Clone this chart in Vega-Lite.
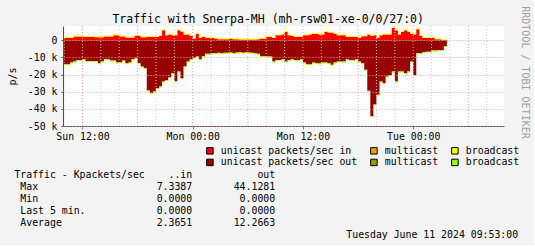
{
  "$schema": "https://vega.github.io/schema/vega-lite/v6.json",
  "background": "#F3F3F3",
  "padding": {"left": 7, "top": 5, "right": 5, "bottom": 5},
  "bounds": "flush",
  "spacing": 49,
  "config": {
    "font": "DejaVu Sans Mono",
    "view": {"stroke": null}
  },
  "datasets": {
    "grid": [
      {"g":"2024-06-09T10:00","m":0},{"g":"2024-06-09T12:00","m":1},{"g":"2024-06-09T14:00","m":0},{"g":"2024-06-09T16:00","m":0},
      {"g":"2024-06-09T18:00","m":1},{"g":"2024-06-09T20:00","m":0},{"g":"2024-06-09T22:00","m":0},{"g":"2024-06-10T00:00","m":1},
      {"g":"2024-06-10T02:00","m":0},{"g":"2024-06-10T04:00","m":0},{"g":"2024-06-10T06:00","m":1},{"g":"2024-06-10T08:00","m":0},
      {"g":"2024-06-10T10:00","m":0},{"g":"2024-06-10T12:00","m":1},{"g":"2024-06-10T14:00","m":0},{"g":"2024-06-10T16:00","m":0},
      {"g":"2024-06-10T18:00","m":1},{"g":"2024-06-10T20:00","m":0},{"g":"2024-06-10T22:00","m":0},{"g":"2024-06-11T00:00","m":1},
      {"g":"2024-06-11T02:00","m":0},{"g":"2024-06-11T04:00","m":0},{"g":"2024-06-11T06:00","m":1},{"g":"2024-06-11T08:00","m":0}
    ],
    "traffic": [
      {"t":"2024-06-09T10:00","ui":1350,"bi":550,"uo":-13850,"bo":-550},
      {"t":"2024-06-09T10:20","ui":1350,"bi":550,"uo":-13850,"bo":-550},
      {"t":"2024-06-09T10:40","ui":1350,"bi":550,"uo":-13050,"bo":-550},
      {"t":"2024-06-09T11:00","ui":2150,"bi":550,"uo":-12450,"bo":-550},
      {"t":"2024-06-09T11:20","ui":2150,"bi":550,"uo":-11450,"bo":-550},
      {"t":"2024-06-09T11:40","ui":2150,"bi":550,"uo":-11450,"bo":-550},
      {"t":"2024-06-09T12:00","ui":1950,"bi":550,"uo":-11050,"bo":-550},
      {"t":"2024-06-09T12:20","ui":1950,"bi":550,"uo":-12050,"bo":-550},
      {"t":"2024-06-09T12:40","ui":1950,"bi":550,"uo":-12050,"bo":-550},
      {"t":"2024-06-09T13:00","ui":1950,"bi":550,"uo":-12050,"bo":-550},
      {"t":"2024-06-09T13:20","ui":1750,"bi":550,"uo":-12050,"bo":-550},
      {"t":"2024-06-09T13:40","ui":1750,"bi":550,"uo":-13450,"bo":-550},
      {"t":"2024-06-09T14:00","ui":1750,"bi":550,"uo":-12450,"bo":-550},
      {"t":"2024-06-09T14:20","ui":2150,"bi":550,"uo":-11050,"bo":-550},
      {"t":"2024-06-09T14:40","ui":2150,"bi":550,"uo":-11050,"bo":-550},
      {"t":"2024-06-09T15:00","ui":2150,"bi":550,"uo":-11850,"bo":-550},
      {"t":"2024-06-09T15:20","ui":2950,"bi":550,"uo":-11850,"bo":-550},
      {"t":"2024-06-09T15:40","ui":2950,"bi":550,"uo":-13050,"bo":-550},
      {"t":"2024-06-09T16:00","ui":2150,"bi":550,"uo":-12650,"bo":-550},
      {"t":"2024-06-09T16:20","ui":2150,"bi":550,"uo":-11850,"bo":-550},
      {"t":"2024-06-09T16:40","ui":1550,"bi":550,"uo":-13450,"bo":-550},
      {"t":"2024-06-09T17:00","ui":1550,"bi":550,"uo":-13050,"bo":-550},
      {"t":"2024-06-09T17:20","ui":1550,"bi":550,"uo":-11050,"bo":-550},
      {"t":"2024-06-09T17:40","ui":2550,"bi":550,"uo":-10450,"bo":-550},
      {"t":"2024-06-09T18:00","ui":2550,"bi":550,"uo":-13450,"bo":-550},
      {"t":"2024-06-09T18:20","ui":1750,"bi":550,"uo":-15350,"bo":-550},
      {"t":"2024-06-09T18:40","ui":1750,"bi":550,"uo":-16350,"bo":-550},
      {"t":"2024-06-09T19:00","ui":1950,"bi":550,"uo":-29350,"bo":-550},
      {"t":"2024-06-09T19:20","ui":1950,"bi":550,"uo":-30850,"bo":-550},
      {"t":"2024-06-09T19:40","ui":1950,"bi":550,"uo":-29950,"bo":-550},
      {"t":"2024-06-09T20:00","ui":1950,"bi":550,"uo":-27950,"bo":-550},
      {"t":"2024-06-09T20:20","ui":2550,"bi":550,"uo":-26950,"bo":-550},
      {"t":"2024-06-09T20:40","ui":5850,"bi":550,"uo":-24050,"bo":-550},
      {"t":"2024-06-09T21:00","ui":2950,"bi":550,"uo":-23150,"bo":-550},
      {"t":"2024-06-09T21:20","ui":3350,"bi":550,"uo":-21550,"bo":-550},
      {"t":"2024-06-09T21:40","ui":2950,"bi":550,"uo":-19250,"bo":-550},
      {"t":"2024-06-09T22:00","ui":2950,"bi":550,"uo":-23950,"bo":-550},
      {"t":"2024-06-09T22:20","ui":5850,"bi":550,"uo":-18250,"bo":-550},
      {"t":"2024-06-09T22:40","ui":5050,"bi":550,"uo":-22150,"bo":-550},
      {"t":"2024-06-09T23:00","ui":3350,"bi":550,"uo":-15350,"bo":-550},
      {"t":"2024-06-09T23:20","ui":3350,"bi":550,"uo":-12450,"bo":-550},
      {"t":"2024-06-09T23:40","ui":2550,"bi":550,"uo":-11050,"bo":-550},
      {"t":"2024-06-10T00:00","ui":950,"bi":550,"uo":-10250,"bo":-550},
      {"t":"2024-06-10T00:20","ui":3850,"bi":550,"uo":-9550,"bo":-550},
      {"t":"2024-06-10T00:40","ui":1350,"bi":550,"uo":-11050,"bo":-550},
      {"t":"2024-06-10T01:00","ui":1950,"bi":550,"uo":-9150,"bo":-550},
      {"t":"2024-06-10T01:20","ui":1350,"bi":550,"uo":-7950,"bo":-550},
      {"t":"2024-06-10T01:40","ui":1350,"bi":550,"uo":-7950,"bo":-550},
      {"t":"2024-06-10T02:00","ui":1350,"bi":550,"uo":-7550,"bo":-550},
      {"t":"2024-06-10T02:20","ui":950,"bi":550,"uo":-7450,"bo":-550},
      {"t":"2024-06-10T02:40","ui":550,"bi":550,"uo":-7250,"bo":-550},
      {"t":"2024-06-10T03:00","ui":550,"bi":550,"uo":-7650,"bo":-550},
      {"t":"2024-06-10T03:20","ui":550,"bi":550,"uo":-7350,"bo":-550},
      {"t":"2024-06-10T03:40","ui":550,"bi":550,"uo":-7250,"bo":-550},
      {"t":"2024-06-10T04:00","ui":950,"bi":550,"uo":-7150,"bo":-550},
      {"t":"2024-06-10T04:20","ui":550,"bi":550,"uo":-7450,"bo":-550},
      {"t":"2024-06-10T04:40","ui":550,"bi":550,"uo":-7150,"bo":-550},
      {"t":"2024-06-10T05:00","ui":450,"bi":550,"uo":-7050,"bo":-550},
      {"t":"2024-06-10T05:20","ui":450,"bi":550,"uo":-7250,"bo":-550},
      {"t":"2024-06-10T05:40","ui":450,"bi":550,"uo":-6950,"bo":-550},
      {"t":"2024-06-10T06:00","ui":450,"bi":550,"uo":-7150,"bo":-550},
      {"t":"2024-06-10T06:20","ui":450,"bi":550,"uo":-7350,"bo":-550},
      {"t":"2024-06-10T06:40","ui":450,"bi":550,"uo":-7650,"bo":-550},
      {"t":"2024-06-10T07:00","ui":550,"bi":550,"uo":-7950,"bo":-550},
      {"t":"2024-06-10T07:20","ui":950,"bi":550,"uo":-9150,"bo":-550},
      {"t":"2024-06-10T07:40","ui":950,"bi":550,"uo":-9150,"bo":-550},
      {"t":"2024-06-10T08:00","ui":1950,"bi":550,"uo":-9550,"bo":-550},
      {"t":"2024-06-10T08:20","ui":1950,"bi":550,"uo":-9550,"bo":-550},
      {"t":"2024-06-10T08:40","ui":1350,"bi":550,"uo":-12450,"bo":-550},
      {"t":"2024-06-10T09:00","ui":2950,"bi":550,"uo":-11450,"bo":-550},
      {"t":"2024-06-10T09:20","ui":2950,"bi":550,"uo":-11450,"bo":-550},
      {"t":"2024-06-10T09:40","ui":3350,"bi":550,"uo":-11050,"bo":-550},
      {"t":"2024-06-10T10:00","ui":4850,"bi":550,"uo":-12450,"bo":-550},
      {"t":"2024-06-10T10:20","ui":2950,"bi":550,"uo":-11450,"bo":-550},
      {"t":"2024-06-10T10:40","ui":2550,"bi":550,"uo":-11050,"bo":-550},
      {"t":"2024-06-10T11:00","ui":1950,"bi":550,"uo":-11450,"bo":-550},
      {"t":"2024-06-10T11:20","ui":1950,"bi":550,"uo":-11450,"bo":-550},
      {"t":"2024-06-10T11:40","ui":1950,"bi":550,"uo":-11050,"bo":-550},
      {"t":"2024-06-10T12:00","ui":2950,"bi":550,"uo":-13050,"bo":-550},
      {"t":"2024-06-10T12:20","ui":2950,"bi":550,"uo":-13850,"bo":-550},
      {"t":"2024-06-10T12:40","ui":3350,"bi":550,"uo":-13850,"bo":-550},
      {"t":"2024-06-10T13:00","ui":3850,"bi":550,"uo":-13050,"bo":-550},
      {"t":"2024-06-10T13:20","ui":3850,"bi":550,"uo":-13450,"bo":-550},
      {"t":"2024-06-10T13:40","ui":3350,"bi":550,"uo":-13450,"bo":-550},
      {"t":"2024-06-10T14:00","ui":3350,"bi":550,"uo":-13050,"bo":-550},
      {"t":"2024-06-10T14:20","ui":4850,"bi":550,"uo":-13050,"bo":-550},
      {"t":"2024-06-10T14:40","ui":4450,"bi":550,"uo":-13450,"bo":-550},
      {"t":"2024-06-10T15:00","ui":4450,"bi":550,"uo":-14350,"bo":-550},
      {"t":"2024-06-10T15:20","ui":3850,"bi":550,"uo":-13050,"bo":-550},
      {"t":"2024-06-10T15:40","ui":2950,"bi":550,"uo":-12450,"bo":-550},
      {"t":"2024-06-10T16:00","ui":2950,"bi":550,"uo":-12450,"bo":-550},
      {"t":"2024-06-10T16:20","ui":2950,"bi":550,"uo":-12450,"bo":-550},
      {"t":"2024-06-10T16:40","ui":1950,"bi":550,"uo":-11050,"bo":-550},
      {"t":"2024-06-10T17:00","ui":1950,"bi":550,"uo":-11450,"bo":-550},
      {"t":"2024-06-10T17:20","ui":1950,"bi":550,"uo":-11450,"bo":-550},
      {"t":"2024-06-10T17:40","ui":1950,"bi":550,"uo":-11050,"bo":-550},
      {"t":"2024-06-10T18:00","ui":1350,"bi":550,"uo":-12450,"bo":-550},
      {"t":"2024-06-10T18:20","ui":2350,"bi":550,"uo":-13450,"bo":-550},
      {"t":"2024-06-10T18:40","ui":2350,"bi":550,"uo":-17250,"bo":-550},
      {"t":"2024-06-10T19:00","ui":3350,"bi":550,"uo":-29450,"bo":-550},
      {"t":"2024-06-10T19:20","ui":2550,"bi":550,"uo":-44128,"bo":-550},
      {"t":"2024-06-10T19:40","ui":2950,"bi":550,"uo":-37450,"bo":-550},
      {"t":"2024-06-10T20:00","ui":1350,"bi":550,"uo":-31850,"bo":-550},
      {"t":"2024-06-10T20:20","ui":2950,"bi":550,"uo":-24050,"bo":-550},
      {"t":"2024-06-10T20:40","ui":3350,"bi":550,"uo":-25050,"bo":-550},
      {"t":"2024-06-10T21:00","ui":3350,"bi":550,"uo":-21150,"bo":-550},
      {"t":"2024-06-10T21:20","ui":3350,"bi":550,"uo":-20250,"bo":-550},
      {"t":"2024-06-10T21:40","ui":7339,"bi":550,"uo":-18250,"bo":-550},
      {"t":"2024-06-10T22:00","ui":5850,"bi":550,"uo":-24050,"bo":-550},
      {"t":"2024-06-10T22:20","ui":3350,"bi":550,"uo":-18250,"bo":-550},
      {"t":"2024-06-10T22:40","ui":4850,"bi":550,"uo":-18250,"bo":-550},
      {"t":"2024-06-10T23:00","ui":5850,"bi":550,"uo":-19250,"bo":-550},
      {"t":"2024-06-10T23:20","ui":4850,"bi":550,"uo":-18250,"bo":-550},
      {"t":"2024-06-10T23:40","ui":3850,"bi":550,"uo":-12450,"bo":-550},
      {"t":"2024-06-11T00:00","ui":3350,"bi":550,"uo":-20250,"bo":-550},
      {"t":"2024-06-11T00:20","ui":6450,"bi":550,"uo":-7550,"bo":-550},
      {"t":"2024-06-11T00:40","ui":2550,"bi":550,"uo":-7550,"bo":-550},
      {"t":"2024-06-11T01:00","ui":1350,"bi":550,"uo":-6950,"bo":-550},
      {"t":"2024-06-11T01:20","ui":1350,"bi":550,"uo":-6650,"bo":-550},
      {"t":"2024-06-11T01:40","ui":1350,"bi":550,"uo":-6650,"bo":-550},
      {"t":"2024-06-11T02:00","ui":1350,"bi":550,"uo":-6050,"bo":-550},
      {"t":"2024-06-11T02:20","ui":550,"bi":550,"uo":-6050,"bo":-550},
      {"t":"2024-06-11T02:40","ui":550,"bi":550,"uo":-5650,"bo":-550},
      {"t":"2024-06-11T03:00","ui":50,"bi":550,"uo":-5650,"bo":-550},
      {"t":"2024-06-11T03:20","ui":50,"bi":550,"uo":-3450,"bo":-550},
      {"t":"2024-06-11T03:40","ui":50,"bi":550,"uo":-3450,"bo":-550}
    ]
  },
  "vconcat": [
    {
      "width": 441,
      "height": 100,
      "view": {"fill": "#FFFFFF", "stroke": null},
      "title": {"text": "Traffic with Snerpa-MH (mh-rsw01-xe-0/0/27:0)", "font": "DejaVu Sans Mono", "fontSize": 11.5, "fontWeight": "normal", "color": "#000000", "frame": "bounds", "offset": -19.5},
      "layer": [
        {
          "data": {"name": "traffic"},
          "transform": [{"fold": ["ui", "bi", "uo", "bo"], "as": ["s", "v"]}],
          "mark": {"type": "area", "interpolate": "step-after"},
          "encoding": {
            "x": {
              "field": "t", "type": "temporal",
              "scale": {"domain": [{"year": 2024, "month": 6, "date": 9, "hours": 9, "minutes": 53}, {"year": 2024, "month": 6, "date": 11, "hours": 9, "minutes": 53}]},
              "axis": {
                "title": null,
                "format": "%a %H:%M",
                "tickCount": 4,
                "grid": false,
                "labelFontSize": 9.85,
                "labelColor": "#000000",
                "labelPadding": 2,
                "tickSize": 3,
                "tickColor": "#808080",
                "domainColor": "#505050"
              }
            },
            "y": {
              "field": "v", "type": "quantitative", "stack": "zero",
              "scale": {"domain": [-50000, 8300], "nice": false},
              "axis": {
                "values": [-50000, -40000, -30000, -20000, -10000, 0],
                "labelExpr": "datum.value == 0 ? '0' : '-' + (-datum.value / 1000) + ' k'",
                "title": "p/s",
                "titleFontWeight": "normal",
                "titleFontSize": 10,
                "titleColor": "#000000",
                "titlePadding": 10,
                "labelFontSize": 9.85,
                "labelColor": "#000000",
                "labelPadding": 4,
                "tickSize": 2,
                "tickColor": "#505050",
                "domainColor": "#505050",
                "gridColor": "#E8A0A0",
                "gridDash": [1, 2],
                "zindex": 1
              }
            },
            "color": {
              "field": "s", "type": "nominal",
              "scale": {"domain": ["ui", "mi", "bi", "uo", "mo", "bo"], "range": ["#FF0000", "#FF9900", "#FFFF00", "#990000", "#999900", "#99FF00"]},
              "legend": {
                "orient": "none", "legendX": 142, "legendY": 119.5,
                "direction": "horizontal",
                "columns": 3, "title": null,
                "symbolType": "square", "symbolSize": 42,
                "symbolStrokeColor": "#000000", "symbolStrokeWidth": 1, "symbolOpacity": 1,
                "labelFont": "DejaVu Sans Mono", "labelFontSize": 9.85, "labelColor": "#000000",
                "labelExpr": "datum.value == 'ui' ? 'unicast packets/sec in' : datum.value == 'uo' ? 'unicast packets/sec out' : (datum.value == 'mi' || datum.value == 'mo') ? 'multicast' : 'broadcast'",
                "labelLimit": 300,
                "columnPadding": 10, "rowPadding": 0, "labelOffset": 6, "padding": 0
              }
            },
            "order": {"field": "s", "sort": "descending"}
          }
        },
        {
          "data": {"name": "grid"},
          "transform": [{"filter": "datum.m == 0"}],
          "mark": {"type": "rule", "color": "#D0D0D0", "strokeDash": [1, 2], "strokeWidth": 1},
          "encoding": {
            "x": {
              "field": "g", "type": "temporal",
              "axis": {
                "title": null,
                "format": "%a %H:%M",
                "tickCount": 4,
                "grid": false,
                "labelFontSize": 9.85,
                "labelColor": "#000000",
                "labelPadding": 2,
                "tickSize": 3,
                "tickColor": "#808080",
                "domainColor": "#505050"
              }
            }
          }
        },
        {
          "data": {"name": "grid"},
          "transform": [{"filter": "datum.m == 1"}],
          "mark": {"type": "rule", "color": "#E8A0A0", "strokeDash": [1, 2], "strokeWidth": 1},
          "encoding": {
            "x": {
              "field": "g", "type": "temporal",
              "axis": {
                "title": null,
                "format": "%a %H:%M",
                "tickCount": 4,
                "grid": false,
                "labelFontSize": 9.85,
                "labelColor": "#000000",
                "labelPadding": 2,
                "tickSize": 3,
                "tickColor": "#808080",
                "domainColor": "#505050"
              }
            }
          }
        },
        {
          "data": {"values": [{"a": 1}]},
          "mark": {"type": "rule", "opacity": 0},
          "encoding": {
            "y": {
              "datum": 0, "type": "quantitative",
              "axis": {"orient": "right", "title": "RRDTOOL / TOBI OETIKER", "labels": false, "ticks": false, "domain": false, "grid": false, "titleAngle": 90, "titleY": 46, "titleColor": "#A0A0A0", "titleFontSize": 10, "titleFontWeight": "normal", "titlePadding": 15}
            }
          }
        }
      ],
      "resolve": {"axis": {"y": "independent"}}
    },
    {
      "width": 441,
      "height": 60,
      "view": {"fill": null, "stroke": null},
      "data": {"values": [
        {"n": 0, "txt": "Traffic - Kpackets/sec\u00a0\u00a0\u00a0\u00a0..in\u00a0\u00a0\u00a0\u00a0\u00a0\u00a0\u00a0\u00a0\u00a0\u00a0\u00a0out"},
        {"n": 1, "txt": "\u200b\u00a0Max\u00a0\u00a0\u00a0\u00a0\u00a0\u00a0\u00a0\u00a0\u00a0\u00a0\u00a0\u00a0\u00a0\u00a0\u00a0\u00a0\u00a0\u00a0\u00a0\u00a07.3387\u00a0\u00a0\u00a0\u00a0\u00a0\u00a0\u00a044.1281"},
        {"n": 2, "txt": "\u200b\u00a0Min\u00a0\u00a0\u00a0\u00a0\u00a0\u00a0\u00a0\u00a0\u00a0\u00a0\u00a0\u00a0\u00a0\u00a0\u00a0\u00a0\u00a0\u00a0\u00a0\u00a00.0000\u00a0\u00a0\u00a0\u00a0\u00a0\u00a0\u00a0\u00a00.0000"},
        {"n": 3, "txt": "\u200b\u00a0Last 5 min.\u00a0\u00a0\u00a0\u00a0\u00a0\u00a0\u00a0\u00a0\u00a0\u00a0\u00a0\u00a00.0000\u00a0\u00a0\u00a0\u00a0\u00a0\u00a0\u00a0\u00a00.0000"},
        {"n": 4, "txt": "\u200b\u00a0Average\u00a0\u00a0\u00a0\u00a0\u00a0\u00a0\u00a0\u00a0\u00a0\u00a0\u00a0\u00a0\u00a0\u00a0\u00a0\u00a02.3651\u00a0\u00a0\u00a0\u00a0\u00a0\u00a0\u00a012.2663"},
        {"n": 5, "txt": "\u200b\u00a0\u00a0\u00a0\u00a0\u00a0\u00a0\u00a0\u00a0\u00a0\u00a0\u00a0\u00a0\u00a0\u00a0\u00a0\u00a0\u00a0\u00a0\u00a0\u00a0\u00a0\u00a0\u00a0\u00a0\u00a0\u00a0\u00a0\u00a0\u00a0\u00a0\u00a0\u00a0\u00a0\u00a0\u00a0\u00a0\u00a0\u00a0\u00a0\u00a0\u00a0\u00a0\u00a0\u00a0\u00a0\u00a0\u00a0\u00a0\u00a0\u00a0\u00a0\u00a0\u00a0\u00a0\u00a0\u00a0Tuesday June 11 2024 09:53:00"}
      ]},
      "mark": {"type": "text", "align": "left", "baseline": "middle", "dx": -269.1, "font": "DejaVu Sans Mono", "fontSize": 9.85, "color": "#000000"},
      "encoding": {
        "y": {"field": "n", "type": "ordinal", "scale": {"type": "point", "padding": 0}, "axis": null},
        "text": {"field": "txt"}
      }
    }
  ]
}
